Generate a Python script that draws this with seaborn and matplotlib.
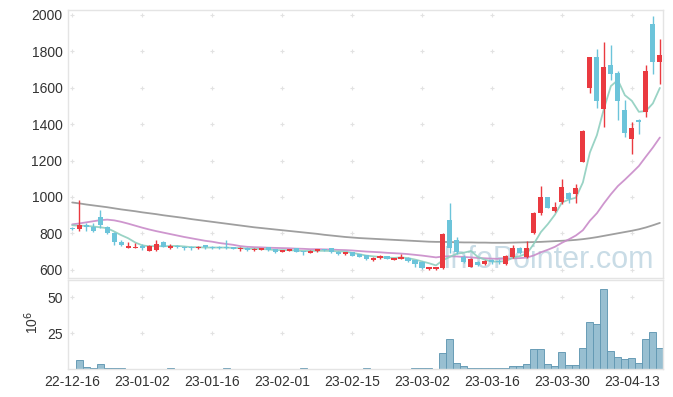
import matplotlib
matplotlib.use("Agg")
import matplotlib.pyplot as plt
from matplotlib import font_manager
import seaborn as sns
import numpy as np
import pandas as pd

# ---------------- data ----------------
opens = [830, 825, 847, 834, 889, 834, 804, 755, 722, 720,
         730, 706, 710, 752, 722, 731, 728, 727, 720, 737,
         728, 728, 726, 724, 713, 719, 708, 712, 726, 713,
         700, 705, 719, 704, 695, 702, 712, 719, 700, 686,
         697, 686, 682, 655, 664, 677, 657, 662, 668, 653,
         646, 608, 608, 609, 874, 764, 673, 618, 646, 631,
         655, 650, 633, 670, 719, 670, 801, 914, 998, 925,
         970, 1022, 1018, 1194, 1600, 1766, 1481, 1723, 1678, 1477,
         1316, 1422, 1464, 1948, 1738]
highs = [836, 984, 856, 856, 929, 840, 806, 762, 755, 748,
         745, 735, 764, 758, 745, 735, 732, 733, 733, 738,
         733, 733, 764, 728, 724, 724, 718, 720, 728, 716,
         711, 716, 721, 706, 708, 716, 716, 721, 703, 700,
         700, 688, 684, 671, 680, 679, 667, 688, 670, 656,
         648, 616, 618, 800, 965, 779, 684, 665, 650, 655,
         660, 658, 680, 737, 728, 759, 920, 1060, 1000, 974,
         1100, 1028, 1070, 1365, 1770, 1809, 1847, 1833, 1690, 1530,
         1409, 1425, 1721, 1994, 1864]
lows = [818, 814, 814, 810, 828, 795, 737, 730, 718, 718,
        712, 705, 705, 725, 714, 720, 712, 710, 714, 716,
        714, 716, 716, 714, 705, 706, 704, 708, 706, 695,
        697, 702, 697, 682, 692, 700, 706, 695, 682, 684,
        676, 670, 657, 650, 658, 658, 655, 660, 645, 618,
        608, 600, 602, 603, 691, 690, 640, 615, 622, 627,
        635, 630, 627, 665, 685, 665, 795, 901, 937, 918,
        960, 965, 965, 1190, 1568, 1486, 1385, 1641, 1422, 1331,
        1236, 1345, 1440, 1674, 1619]
closes = [825, 847, 838, 814, 847, 801, 755, 738, 731, 728,
          722, 733, 741, 728, 733, 724, 720, 720, 728, 724,
          722, 720, 722, 716, 720, 708, 715, 716, 708, 700,
          708, 713, 700, 697, 704, 713, 710, 697, 688, 697,
          679, 673, 660, 668, 677, 662, 664, 673, 649, 635,
          613, 613, 614, 797, 722, 697, 646, 660, 628, 651,
          646, 645, 677, 719, 692, 719, 911, 998, 941, 944,
          1055, 990, 1048, 1362, 1766, 1528, 1711, 1672, 1528, 1349,
          1376, 1410, 1690, 1738, 1778]
ma5 = [845, 843, 842, 838, 834, 829, 811, 791, 774, 751,
       735, 730, 731, 730, 731, 732, 729, 725, 725, 723,
       723, 723, 723, 721, 720, 717, 716, 715, 713, 709,
       709, 709, 706, 704, 704, 705, 705, 704, 702, 701,
       694, 687, 679, 675, 671, 668, 666, 669, 665, 657,
       647, 637, 625, 654, 672, 689, 695, 704, 671, 656,
       646, 646, 649, 668, 676, 690, 744, 808, 852, 903,
       970, 986, 996, 1080, 1244, 1339, 1483, 1608, 1641, 1558,
       1527, 1467, 1471, 1513, 1598]
ma20 = [850, 855, 861, 867, 873, 876, 872, 864, 854, 843,
        832, 822, 813, 805, 797, 789, 781, 774, 767, 760,
        755, 748, 743, 738, 731, 727, 725, 724, 722, 721,
        720, 719, 717, 716, 714, 714, 713, 712, 710, 709,
        707, 704, 701, 699, 697, 694, 692, 690, 687, 683,
        679, 674, 669, 674, 675, 674, 671, 669, 666, 664,
        662, 661, 662, 664, 665, 668, 680, 697, 711, 727,
        749, 768, 789, 818, 870, 911, 965, 1015, 1060, 1095,
        1132, 1170, 1221, 1271, 1326]
ma60 = [970, 965, 959, 954, 949, 944, 938, 932, 927, 922,
        916, 911, 906, 900, 895, 890, 885, 879, 874, 869,
        864, 859, 854, 849, 844, 839, 834, 830, 826, 822,
        818, 814, 810, 806, 802, 798, 793, 789, 785, 781,
        778, 775, 773, 771, 769, 767, 765, 763, 761, 759,
        757, 755, 754, 754, 753, 752, 751, 751, 750, 750,
        749, 749, 749, 750, 751, 752, 753, 754, 756, 758,
        760, 762, 765, 769, 774, 780, 787, 794, 801, 808,
        815, 823, 833, 845, 858]
volume = [0.3, 6.2, 1.6, 0.9, 3.5, 0.9, 0.9, 0.8, 0.2, 0.2,
          0.2, 0.2, 0.2, 0.2, 0.8, 0.2, 0.2, 0.2, 0.2, 0.2,
          0.2, 0.2, 0.8, 0.2, 0.2, 0.2, 0.2, 0.2, 0.2, 0.2,
          0.2, 0.2, 0.2, 0.8, 0.2, 0.2, 0.2, 0.2, 0.2, 0.2,
          0.2, 0.2, 0.8, 0.2, 0.2, 0.2, 0.2, 0.2, 0.2, 0.8,
          0.8, 0.8, 0.3, 11.0, 20.7, 4.1, 2.3, 0.8, 0.8, 0.8,
          0.8, 0.8, 0.8, 2.3, 2.3, 3.5, 13.8, 13.8, 3.5, 2.3,
          11.8, 2.8, 2.8, 14.5, 32.5, 31.1, 56.0, 12.4, 8.5, 7.1,
          7.6, 4.1, 20.7, 25.6, 14.5]
tick_pos = [0, 10, 20, 30, 40, 50, 60, 70, 80]
tick_labels = ["22-12-16", "23-01-02", "23-01-16", "23-02-01", "23-02-15",
               "23-03-02", "23-03-16", "23-03-30", "23-04-13"]
price_ticks = [600, 800, 1000, 1200, 1400, 1600, 1800, 2000]
vol_ticks = [25, 50]

# ---------------- style ----------------
sns.set_theme(style="white")
plt.rcParams["font.family"] = ["Liberation Sans", "DejaVu Sans"]

UP = "#ea3a40"
DOWN = "#6cc4da"
SPINE = "#e4e4e4"
TXT = "#333333"

n = len(closes)
idx = np.arange(n)
df = pd.DataFrame({"idx": idx, "open": opens, "high": highs, "low": lows,
                   "close": closes, "ma5": ma5, "ma20": ma20, "ma60": ma60,
                   "volume": volume})

fig = plt.figure(figsize=(6.73, 3.97), dpi=100)
W, H = 673, 397
ax = fig.add_axes([68 / W, (H - 278) / H, 595 / W, 268 / H])
axv = fig.add_axes([68 / W, (H - 369) / H, 595 / W, 89 / H], sharex=ax)

# watermark
ax.text(0.807, 0.037, "InfoPointer.com", transform=ax.transAxes,
        ha="center", va="baseline", fontsize=22,
        color="#c6dae5", alpha=0.95, zorder=0.5)

# grid crosses
gx, gy = np.meshgrid(tick_pos, price_ticks)
ax.scatter(gx.ravel(), gy.ravel(), marker="+", s=12, color="#e2e2e2",
           linewidths=0.8, zorder=0.6)
gx2, gy2 = np.meshgrid(tick_pos, vol_ticks)
axv.scatter(gx2.ravel(), gy2.ravel(), marker="+", s=12, color="#e2e2e2",
            linewidths=0.8, zorder=0.6)

# moving averages
sns.lineplot(data=df, x="idx", y="ma60", ax=ax, color="#9a9a9a", lw=1.3,
             alpha=0.95, zorder=2)
sns.lineplot(data=df, x="idx", y="ma20", ax=ax, color="#c98bc9", lw=1.3,
             alpha=0.9, zorder=2)
sns.lineplot(data=df, x="idx", y="ma5", ax=ax, color="#8fcfbf", lw=1.3,
             alpha=0.9, zorder=2)

# candles
o = df["open"].to_numpy(float)
c = df["close"].to_numpy(float)
up = c >= o
cols = np.where(up, UP, DOWN)
ax.vlines(idx, df["low"], df["high"], colors=cols, lw=1.0, zorder=3)
bottom = np.minimum(o, c)
height = np.maximum(np.abs(c - o), 6)
ax.bar(idx, height, bottom=bottom, width=0.72, color=cols, linewidth=0,
       zorder=4)

# volume
axv.bar(idx, df["volume"], width=1.0, color="#93bccf", edgecolor="#6399b3",
        linewidth=0.7, alpha=0.95, zorder=2)

# axes cosmetics
ax.set_xlim(-0.6, 84.45)
ax.set_ylim(556, 2025)
axv.set_ylim(0, 62)
ax.set_yticks(price_ticks)
ax.set_yticklabels([str(v) for v in price_ticks])
axv.set_yticks(vol_ticks)
axv.set_yticklabels([str(v) for v in vol_ticks])
axv.set_xticks(tick_pos)
axv.set_xticklabels(tick_labels)
ax.tick_params(axis="x", labelbottom=False, length=0)
ax.tick_params(axis="y", length=0, labelsize=10, labelcolor=TXT, pad=4)
axv.tick_params(axis="both", length=0, labelsize=10, labelcolor=TXT, pad=4)
for a in (ax, axv):
    a.set_xlabel("")
    a.set_ylabel("")
    for s in a.spines.values():
        s.set_color(SPINE)
        s.set_linewidth(1.0)
fig.text(32 / W, (H - 322) / H, "10$^{6}$", rotation=90, ha="center",
         va="center", fontsize=10, color=TXT)

fig.savefig("out.png", dpi=100)
